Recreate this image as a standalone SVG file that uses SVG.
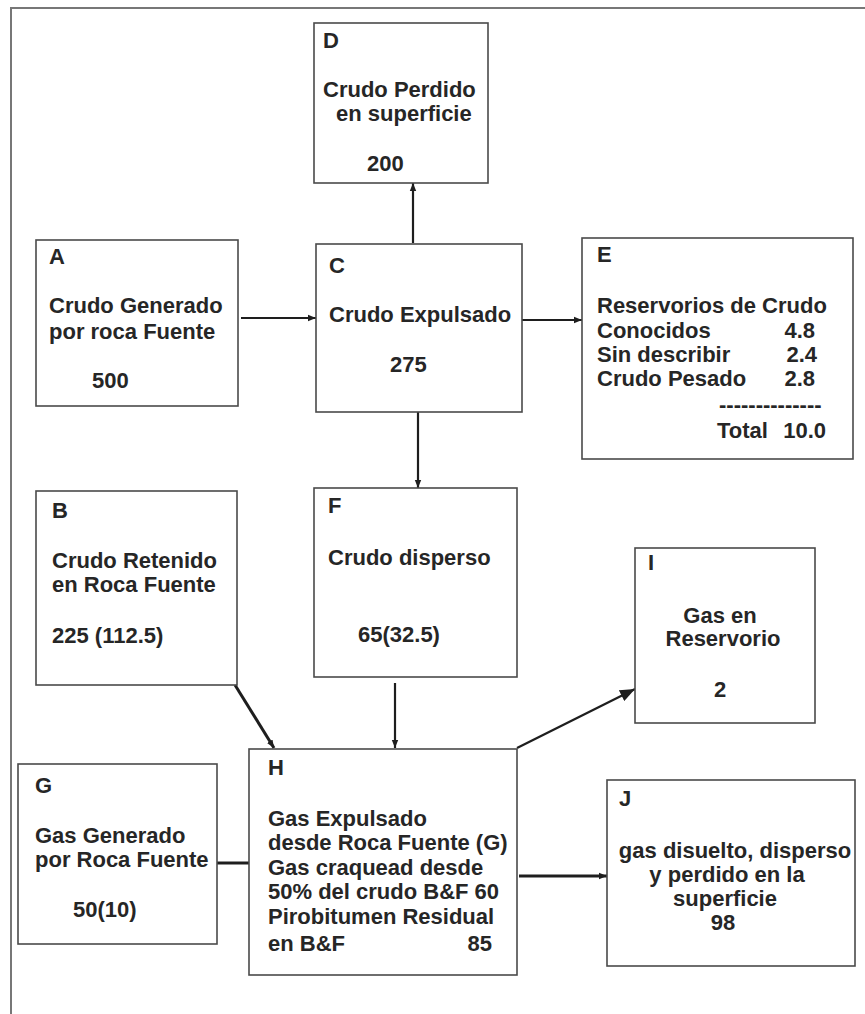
<svg xmlns="http://www.w3.org/2000/svg" width="865" height="1014" viewBox="0 0 865 1014">
  <style>
    .box { fill: #ffffff; stroke: #4a4a4a; stroke-width: 1.6; }
    .lbl { font-family: "Liberation Sans", Arial, sans-serif; font-size: 22px; font-weight: bold; fill: #262626; }
    .mid { text-anchor: middle; }
    .end { text-anchor: end; }
    .link { stroke: #1e1e1e; stroke-width: 2.2; fill: none; }
    .thick { stroke-width: 3; }
  </style>
  <defs>
    <marker id="tip" markerUnits="userSpaceOnUse" markerWidth="9" markerHeight="8" refX="8" refY="4" orient="auto">
      <path d="M0,0.8 L8,4 L0,7.2 z" fill="#1e1e1e"/>
    </marker>
    <marker id="tipBig" markerUnits="userSpaceOnUse" markerWidth="16" markerHeight="12" refX="15" refY="6" orient="auto">
      <path d="M0,0 L15,6 L0,12 z" fill="#1e1e1e"/>
    </marker>
  </defs>

  <rect width="865" height="1014" fill="#ffffff"/>

  <!-- page frame -->
  <path d="M11,1014 V8 H865" fill="none" stroke="#777777" stroke-width="2"/>

  <!-- connectors -->
  <g id="connectors">
    <line class="link" x1="413" y1="243" x2="413" y2="183" marker-end="url(#tip)"/>
    <line class="link" x1="241" y1="318" x2="316" y2="318" marker-end="url(#tip)"/>
    <line class="link" x1="522" y1="320" x2="582" y2="320" marker-end="url(#tip)"/>
    <line class="link" x1="418" y1="412" x2="418" y2="488" marker-end="url(#tip)"/>
    <line class="link thick" x1="235" y1="685" x2="274" y2="748" marker-end="url(#tip)"/>
    <line class="link" x1="395" y1="683" x2="395" y2="748" marker-end="url(#tip)"/>
    <line class="link" x1="517" y1="748" x2="635" y2="689" marker-end="url(#tipBig)"/>
    <line class="link thick" x1="217" y1="863" x2="249" y2="863"/>
    <line class="link thick" x1="519" y1="876" x2="607" y2="876" marker-end="url(#tip)"/>
  </g>

  <g id="node-D">
    <rect class="box" x="314" y="23" width="174" height="160"/>
    <text class="lbl" x="323" y="48">D</text>
    <text class="lbl" x="323" y="97">Crudo Perdido</text>
    <text class="lbl" x="336" y="121">en superficie</text>
    <text class="lbl" x="367" y="171">200</text>
  </g>

  <g id="node-A">
    <rect class="box" x="36" y="240" width="202" height="166"/>
    <text class="lbl" x="49" y="264">A</text>
    <text class="lbl" x="49" y="313">Crudo Generado</text>
    <text class="lbl" x="49" y="339">por roca Fuente</text>
    <text class="lbl" x="92" y="388">500</text>
  </g>

  <g id="node-C">
    <rect class="box" x="316" y="244" width="206" height="168"/>
    <text class="lbl" x="329" y="273">C</text>
    <text class="lbl" x="329" y="322">Crudo Expulsado</text>
    <text class="lbl" x="390" y="372">275</text>
  </g>

  <g id="node-E">
    <rect class="box" x="582" y="238" width="271" height="221"/>
    <text class="lbl" x="597" y="262">E</text>
    <text class="lbl" x="597" y="313">Reservorios de Crudo</text>
    <text class="lbl" x="597" y="338">Conocidos</text>
    <text class="lbl end" x="815" y="338">4.8</text>
    <text class="lbl" x="597" y="362">Sin describir</text>
    <text class="lbl end" x="817" y="362">2.4</text>
    <text class="lbl" x="597" y="386">Crudo Pesado</text>
    <text class="lbl end" x="815" y="386">2.8</text>
    <text class="lbl" x="719" y="412">--------------</text>
    <text class="lbl" x="717" y="438">Total</text>
    <text class="lbl end" x="826" y="438">10.0</text>
  </g>

  <g id="node-B">
    <rect class="box" x="36" y="491" width="201" height="194"/>
    <text class="lbl" x="52" y="518">B</text>
    <text class="lbl" x="52" y="568">Crudo Retenido</text>
    <text class="lbl" x="52" y="592">en Roca Fuente</text>
    <text class="lbl" x="52" y="643">225 (112.5)</text>
  </g>

  <g id="node-F">
    <rect class="box" x="314" y="488" width="203" height="189"/>
    <text class="lbl" x="328" y="513">F</text>
    <text class="lbl" x="328" y="565">Crudo disperso</text>
    <text class="lbl" x="358" y="642">65(32.5)</text>
  </g>

  <g id="node-I">
    <rect class="box" x="635" y="548" width="180" height="175"/>
    <text class="lbl" x="648" y="570">I</text>
    <text class="lbl mid" x="720" y="623">Gas en</text>
    <text class="lbl mid" x="723" y="646">Reservorio</text>
    <text class="lbl mid" x="720" y="697">2</text>
  </g>

  <g id="node-G">
    <rect class="box" x="18" y="764" width="199" height="180"/>
    <text class="lbl" x="35" y="793">G</text>
    <text class="lbl" x="35" y="843">Gas Generado</text>
    <text class="lbl" x="35" y="867">por Roca Fuente</text>
    <text class="lbl" x="73" y="917">50(10)</text>
  </g>

  <g id="node-H">
    <rect class="box" x="249" y="749" width="268" height="226"/>
    <text class="lbl" x="268" y="775">H</text>
    <text class="lbl" x="268" y="826">Gas Expulsado</text>
    <text class="lbl" x="268" y="850">desde Roca Fuente (G)</text>
    <text class="lbl" x="268" y="875">Gas craquead desde</text>
    <text class="lbl" x="268" y="899">50% del crudo B&amp;F 60</text>
    <text class="lbl" x="268" y="924">Pirobitumen Residual</text>
    <text class="lbl" x="268" y="951">en B&amp;F</text>
    <text class="lbl end" x="492" y="951">85</text>
  </g>

  <g id="node-J">
    <rect class="box" x="607" y="780" width="248" height="186"/>
    <text class="lbl" x="619" y="806">J</text>
    <text class="lbl mid" x="735" y="858">gas disuelto, disperso</text>
    <text class="lbl mid" x="727" y="882">y perdido en la</text>
    <text class="lbl mid" x="725" y="906">superficie</text>
    <text class="lbl mid" x="723" y="930">98</text>
  </g>
</svg>
